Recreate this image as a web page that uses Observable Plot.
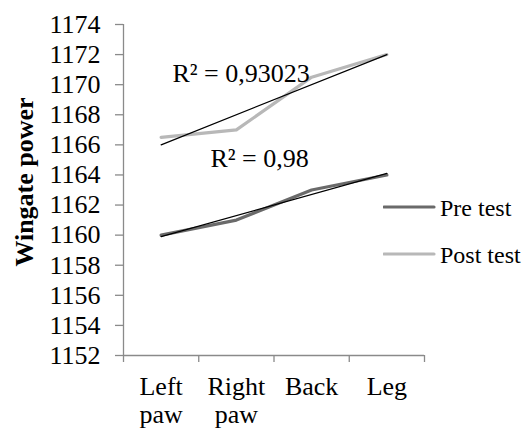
<!DOCTYPE html>
<html>
<head>
<meta charset="utf-8">
<script src="https://cdn.jsdelivr.net/npm/d3@7"></script>
<script src="https://cdn.jsdelivr.net/npm/@observablehq/plot@0.6"></script>
<style>
  html, body { margin: 0; padding: 0; background: white; }
  #chart { position: relative; width: 522px; height: 430px; font-family: 'Liberation Serif', 'Times New Roman', serif; }
  #chart svg text { font-family: 'Liberation Serif', 'Times New Roman', serif; }
  #legend { position: absolute; left: 383px; top: 180px; }
</style>
</head>
<body>
<div id="chart"></div>
<script>
const categories = ["Left paw", "Right paw", "Back", "Leg"];
const preTest = [1160, 1161, 1163, 1164];
const postTest = [1166.5, 1167, 1170.5, 1172];
const seriesNames = ["Pre test", "Post test"];
const seriesColors = ["#6a6a6a", "#b8b8b8"];
const yTicks = [1152, 1154, 1156, 1158, 1160, 1162, 1164, 1166, 1168, 1170, 1172, 1174];
const r2Labels = ["R² = 0,93023", "R² = 0,98"];
const yTitle = "Wingate power";

const FONT = "'Liberation Serif', 'Times New Roman', serif";

// positions 1..n for categories; band edges between
const xs = categories.map((_, i) => i + 1);
const edges = [0.5, ...xs.map(v => v + 0.5)];

function rows(values, name) {
  return values.map((v, i) => ({x: xs[i], y: v, series: name}));
}
function regression(values, name) {
  const mx = d3.mean(xs), my = d3.mean(values);
  const slope = d3.sum(xs, (x, i) => (x - mx) * (values[i] - my)) / d3.sum(xs, x => (x - mx) ** 2);
  const b = my - slope * mx;
  return [xs[0], xs[xs.length - 1]].map(x => ({x, y: b + slope * x, series: name}));
}
const pre = rows(preTest, seriesNames[0]);
const post = rows(postTest, seriesNames[1]);
const preTrend = regression(preTest, seriesNames[0]);
const postTrend = regression(postTest, seriesNames[1]);

// annotation anchors (data coordinates of trendline labels)
const r2Anchors = [
  {x: 1.15, y: 1170.15, text: r2Labels[0]},
  {x: 1.655, y: 1164.5, text: r2Labels[1]}
];

const plot = Plot.plot({
  width: 522,
  height: 430,
  marginLeft: 123,
  marginRight: 98,
  marginTop: 24,
  marginBottom: 75,
  style: {fontFamily: FONT, fontSize: "26px", color: "black", background: "white", overflow: "visible"},
  x: {type: "linear", domain: [0.5, 4.5], axis: null},
  y: {domain: [1152, 1174], axis: null},
  marks: [
    Plot.axisY({ticks: yTicks, tickSize: 8, tickPadding: 15, tickFormat: d => String(d), stroke: "#8a8a8a", strokeWidth: 1.3, fill: "black", label: null, fontSize: 26, fontFamily: FONT}),
    Plot.axisX({ticks: edges, tickSize: 7, tickFormat: () => "", stroke: "#8a8a8a", strokeWidth: 1.3, label: null}),
    Plot.ruleX([0.5], {stroke: "#8a8a8a", strokeWidth: 1.3}),
    Plot.ruleY([1152], {stroke: "#8a8a8a", strokeWidth: 1.3}),
    Plot.text(categories, {
      x: (d, i) => xs[i], y: () => 1152, text: d => d.replace(" ", "\n"),
      lineAnchor: "top", lineHeight: 1.07, dy: 20, fontSize: 26, fontFamily: FONT, fill: "black"
    }),
    Plot.text([yTitle], {
      frameAnchor: "left", textAnchor: "middle", lineAnchor: "middle", dx: -98.5, dy: -8, rotate: -90,
      fontWeight: "bold", fontSize: 26, fontFamily: FONT, fill: "black"
    }),
    Plot.line(post, {x: "x", y: "y", stroke: seriesColors[1], strokeWidth: 3.2, strokeLinejoin: "round", strokeLinecap: "round"}),
    Plot.line(pre, {x: "x", y: "y", stroke: seriesColors[0], strokeWidth: 3.2, strokeLinejoin: "round", strokeLinecap: "round"}),
    Plot.line(postTrend, {x: "x", y: "y", stroke: "black", strokeWidth: 1.2}),
    Plot.line(preTrend, {x: "x", y: "y", stroke: "black", strokeWidth: 1.2}),
    Plot.text(r2Anchors, {x: "x", y: "y", text: "text", textAnchor: "start", lineAnchor: "bottom", fontSize: 26, fontFamily: FONT, fill: "black"})
  ]
});

const chart = document.getElementById("chart");
chart.appendChild(plot);

// legend overlay
const legend = d3.select(chart).append("svg")
  .attr("id", "legend")
  .attr("width", 139)
  .attr("height", 100)
  .style("font-family", FONT)
  .style("font-size", "24px");
seriesNames.forEach((name, i) => {
  const g = legend.append("g").attr("transform", `translate(0, ${27 + i * 47})`);
  g.append("line").attr("x1", 1).attr("x2", 51).attr("y1", 0).attr("y2", 0)
    .attr("stroke", seriesColors[i]).attr("stroke-width", 3.2).attr("stroke-linecap", "round");
  g.append("text").attr("x", 57).attr("y", 9).attr("fill", "black").text(name);
});
</script>
</body>
</html>
